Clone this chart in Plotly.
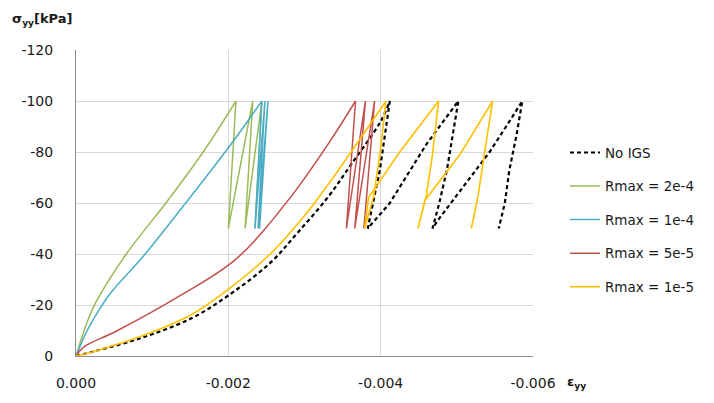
import plotly.graph_objects as go

# Strain (eps_yy) and stress (sigma_yy, kPa) for each run.
# *_load: initial loading branch up to -100 kPa.
# *_cyc: the following unload (-50 kPa) / reload cycles, starting at the first peak.
eps_no_igs_load = [0, -0.00026, -0.00088, -0.00153, -0.00206, -0.00255, -0.00290, -0.00330, -0.00361, -0.00400, -0.00412]
sig_no_igs_load = [0, -2, -7.3, -15, -25, -36.5, -48, -62, -75, -92, -100]
eps_no_igs_cyc = [-0.00412, -0.00405, -0.00399, -0.00390, -0.00383,
                  -0.00412, -0.00460, -0.00502,
                  -0.00494, -0.00487, -0.00477, -0.00468,
                  -0.00477, -0.00508, -0.00543, -0.00569, -0.00586,
                  -0.00578, -0.00569, -0.00563, -0.00555]
sig_no_igs_cyc = [-100, -86, -73, -60, -50,
                  -60, -83, -100,
                  -85, -73, -60, -50,
                  -54, -66, -80, -92, -100,
                  -86, -73, -60, -50]

eps_r2e4_load = [0, -0.00013, -0.00026, -0.00066, -0.00118, -0.00167, -0.00210]
sig_r2e4_load = [0, -12, -21, -40, -60, -80, -100]
eps_r2e4_cyc = [-0.00210, -0.00200, -0.00232, -0.00222, -0.00244, -0.00235]
sig_r2e4_cyc = [-100, -50, -100, -50, -100, -50]

eps_r1e4_load = [0, -0.00013, -0.00026, -0.00045, -0.00088, -0.00144, -0.00206, -0.00244]
sig_r1e4_load = [0, -9, -16, -24.5, -39, -60, -84, -100]
eps_r1e4_cyc = [-0.00244, -0.00235, -0.00248, -0.00239, -0.00252, -0.00241]
sig_r1e4_cyc = [-100, -50, -100, -50, -100, -50]

eps_r5e5_load = [0, -0.00010, -0.00052, -0.00131, -0.00210, -0.00281, -0.00333, -0.00367]
sig_r5e5_load = [0, -3.5, -9.6, -22.7, -38, -62, -84, -100]
eps_r5e5_cyc = [-0.00367, -0.00355, -0.00380, -0.00366, -0.00392, -0.00378]
sig_r5e5_cyc = [-100, -50, -100, -50, -100, -50]

eps_r1e5_load = [0, -0.00026, -0.00088, -0.00153, -0.00206, -0.00255, -0.00300, -0.00340, -0.00375, -0.00407]
sig_r1e5_load = [0, -2, -8, -16.5, -27.5, -40, -55, -71, -86, -100]
eps_r1e5_cyc = [-0.00407, -0.00399, -0.00391, -0.00379,
                -0.00384, -0.00425, -0.00476,
                -0.00468, -0.00460, -0.00449,
                -0.00458, -0.00504, -0.00547,
                -0.00536, -0.00528, -0.00519]
sig_r1e5_cyc = [-100, -79, -63, -50,
                -62, -80, -100,
                -79, -63, -50,
                -61, -79, -100,
                -79, -63, -50]

series_names = ["No IGS", "Rmax = 2e-4", "Rmax = 1e-4", "Rmax = 5e-5", "Rmax = 1e-5"]

x_tick_vals = [0, -0.002, -0.004, -0.006]
x_tick_text = ["0.000", "-0.002", "-0.004", "-0.006"]
y_tick_vals = [0, -20, -40, -60, -80, -100, -120]
y_tick_text = ["0", "-20", "-40", "-60", "-80", "-100", "-120"]

FONT = "DejaVu Sans"
TEXT = "#1a1a1a"

series = [
    (eps_no_igs_load, sig_no_igs_load, eps_no_igs_cyc, sig_no_igs_cyc,
     dict(color="#000000", width=2.2, dash="4px,3px")),
    (eps_r2e4_load, sig_r2e4_load, eps_r2e4_cyc, sig_r2e4_cyc, dict(color="#9BBB59", width=1.5)),
    (eps_r1e4_load, sig_r1e4_load, eps_r1e4_cyc, sig_r1e4_cyc, dict(color="#4BACC6", width=1.5)),
    (eps_r5e5_load, sig_r5e5_load, eps_r5e5_cyc, sig_r5e5_cyc, dict(color="#C0504D", width=1.5)),
    (eps_r1e5_load, sig_r1e5_load, eps_r1e5_cyc, sig_r1e5_cyc, dict(color="#FFC000", width=1.6)),
]

fig = go.Figure()

for name, (xl, yl, xc, yc, line) in zip(series_names, series):
    # smooth initial loading branch
    fig.add_trace(go.Scatter(
        x=xl, y=yl, mode="lines", name=name, legendgroup=name,
        line=dict(shape="spline", smoothing=1.0, **line), hoverinfo="skip",
    ))
    # unload / reload cycles with sharp turning points
    fig.add_trace(go.Scatter(
        x=xc, y=yc, mode="lines", name=name, legendgroup=name, showlegend=False,
        line=dict(shape="linear", **line), hoverinfo="skip",
    ))

fig.update_layout(
    width=714, height=403,
    margin=dict(l=76, r=181, t=50, b=41),
    paper_bgcolor="white", plot_bgcolor="white",
    font=dict(family=FONT, size=13, color=TEXT),
    showlegend=True,
    legend=dict(
        x=1.07, xanchor="left", y=0.715, yanchor="top",
        traceorder="grouped", tracegroupgap=13,
        font=dict(family=FONT, size=13.5, color=TEXT),
        bgcolor="rgba(0,0,0,0)",
    ),
    xaxis=dict(
        range=[0, -0.006], tickvals=x_tick_vals, ticktext=x_tick_text,
        showgrid=True, gridcolor="#D9D9D9", gridwidth=1,
        showline=True, linecolor="#8C8C8C", linewidth=1,
        zeroline=False, ticks="", ticklabelstandoff=14,
        tickfont=dict(family=FONT, size=14, color=TEXT),
    ),
    yaxis=dict(
        range=[0, -120], tickvals=y_tick_vals, ticktext=y_tick_text,
        showgrid=True, gridcolor="#D9D9D9", gridwidth=1,
        showline=True, linecolor="#8C8C8C", linewidth=1,
        zeroline=False, ticks="", ticklabelstandoff=19,
        tickfont=dict(family=FONT, size=14, color=TEXT),
    ),
)

# Axis titles
fig.add_annotation(
    text="<b>σ<sub>yy</sub>[kPa]</b>", xref="paper", yref="paper",
    x=-0.145, y=1.10, xanchor="left", yanchor="middle", showarrow=False,
    font=dict(family=FONT, size=13, color=TEXT),
)
fig.add_annotation(
    text="<b>ε<sub>yy</sub></b>", xref="paper", yref="paper",
    x=1.07, y=-0.085, xanchor="left", yanchor="middle", showarrow=False,
    font=dict(family=FONT, size=13, color=TEXT),
)

fig.write_html("out.html")
